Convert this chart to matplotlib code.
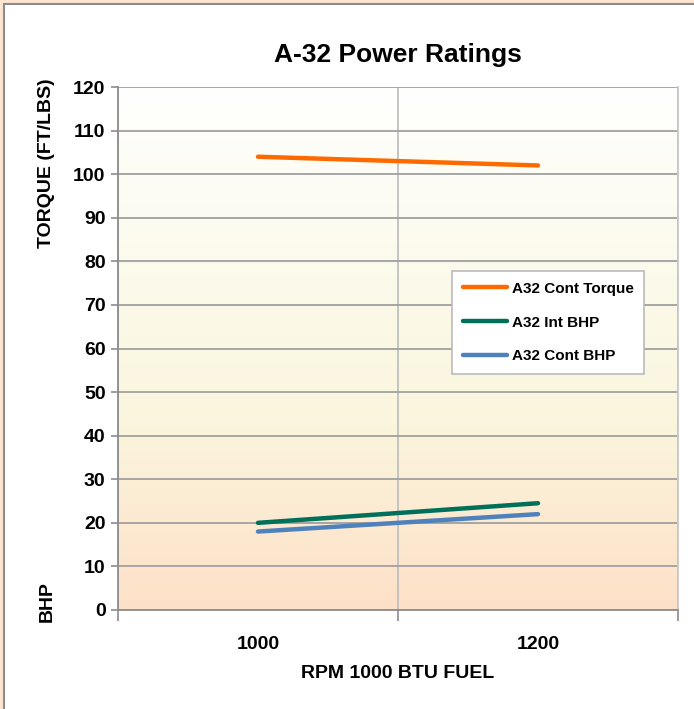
import numpy as np
import matplotlib
matplotlib.use('Agg')
import matplotlib.pyplot as plt
from matplotlib.colors import LinearSegmentedColormap
from matplotlib.patches import Rectangle

plt.rcParams['font.family'] = ['Liberation Sans Narrow', 'Liberation Sans', 'DejaVu Sans']
plt.rcParams['font.weight'] = 'bold'

# Chart data
categories = ['1000', '1200']
cont_torque = [104, 102]
int_bhp = [20, 24.5]
cont_bhp = [18, 22]
series_names = ['A32 Cont Torque', 'A32 Int BHP', 'A32 Cont BHP']
series_colors = ['#FF6A00', '#00705A', '#4F81BD']

fig = plt.figure(figsize=(6.94, 7.09), dpi=100)
fig.patch.set_facecolor('#FDE5CF')

# White chart panel with gray frame
panel = Rectangle((4/694, -0.1), 1.2, (709-4)/709 + 0.1, transform=fig.transFigure,
                  facecolor='white', edgecolor='#8C8C8C', linewidth=1.5)
panel.set_zorder(-5)
fig.patches.append(panel)

ax = fig.add_axes([118/694, 1-610/709, (678-118)/694, (610-87)/709])
ax.set_zorder(2)
ax.set_facecolor('none')

# Background gradient (white top -> light yellow -> peach bottom)
cmap = LinearSegmentedColormap.from_list('bg', [(0, '#FEE0C8'), (0.35, '#FAF5DC'),
                                                (0.7, '#FCFBEE'), (1, '#FFFFFE')])
grad = np.linspace(0, 1, 256).reshape(-1, 1)
ax.imshow(grad, cmap=cmap, origin='lower', aspect='auto',
          extent=[-0.5, 1.5, 0, 120], zorder=0)

x = np.arange(len(categories))
for vals, name, col in zip([cont_torque, int_bhp, cont_bhp], series_names, series_colors):
    ax.plot(x, vals, color=col, linewidth=3.2, solid_capstyle='round', label=name, zorder=3)

ax.set_xlim(-0.5, 1.5)
ax.set_ylim(0, 120)
ax.set_yticks(np.arange(0, 121, 10))
ax.set_xticks(x)
ax.set_xticklabels(categories)
ax.set_xticks([-0.5, 0.5, 1.5], minor=True)
ax.tick_params(axis='x', which='major', length=0, pad=19, labelsize=14)
ax.tick_params(axis='x', which='minor', length=8, width=1.2, color='#8C8C8C')
ax.tick_params(axis='y', length=5, width=1.2, color='#8C8C8C', pad=4, labelsize=14)

ax.grid(True, axis='y', which='major', color='#A0A0A0', linewidth=1.3, zorder=1)
ax.grid(True, axis='x', which='minor', color='#C0C0C0', linewidth=1.3, zorder=1)

ax.spines['top'].set_visible(False)
ax.spines['right'].set_color('#C8C8C8')
ax.spines['right'].set_linewidth(1.3)
ax.spines['left'].set_color('#8C8C8C')
ax.spines['bottom'].set_color('#8C8C8C')
ax.spines['left'].set_linewidth(1.3)
ax.spines['bottom'].set_linewidth(1.3)

ax.set_title('A-32 Power Ratings', fontsize=19, fontweight='bold', pad=18)
ax.set_xlabel('RPM 1000 BTU FUEL', fontsize=14, fontweight='bold', labelpad=8)

fig.text(47/694, 1-163/709, 'TORQUE (FT/LBS)', rotation=90, ha='center', va='center',
         fontsize=14, fontweight='bold')
fig.text(47/694, 1-602/709, 'BHP', rotation=90, ha='center', va='center',
         fontsize=14, fontweight='bold')

leg = ax.legend(loc='upper left', bbox_to_anchor=((452-118)/560, (610-271)/523),
                fontsize=11, frameon=True, fancybox=False, edgecolor='#BBBBBB',
                handlelength=2.9, handletextpad=0.3, labelspacing=1.3,
                borderpad=0.7, borderaxespad=0)
leg.get_frame().set_linewidth(1.2)
leg.get_frame().set_facecolor('white')
leg.get_frame().set_alpha(1)

fig.savefig('out.png', dpi=100)
